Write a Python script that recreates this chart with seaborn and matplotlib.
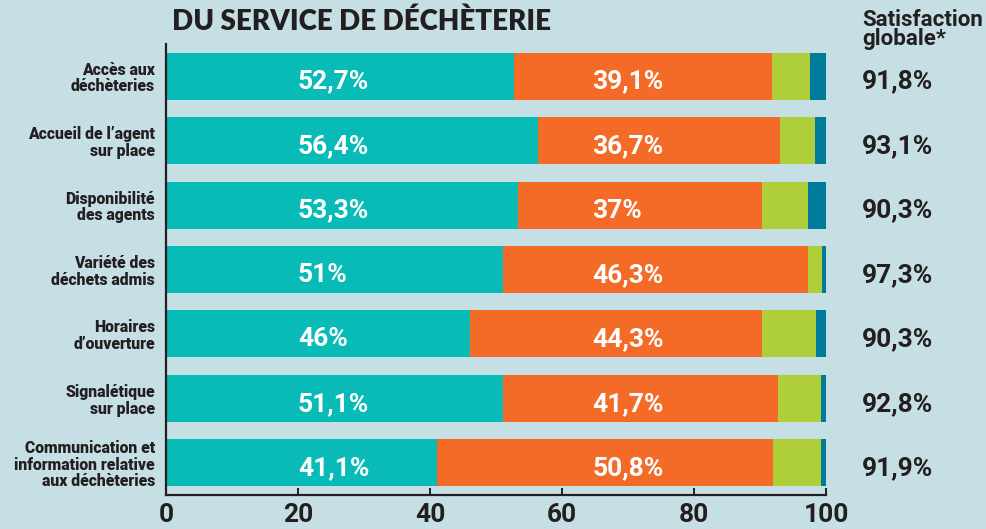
import matplotlib
matplotlib.use("Agg")
import matplotlib.pyplot as plt
import matplotlib.transforms as mtransforms
import numpy as np
import seaborn as sns

# Survey results: share of respondents per satisfaction level (%)
categories = [
    "Accès aux\ndéchèteries",
    "Accueil de l’agent\nsur place",
    "Disponibilité\ndes agents",
    "Variété des\ndéchets admis",
    "Horaires\nd’ouverture",
    "Signalétique\nsur place",
    "Communication et\ninformation relative\naux déchèteries",
]
tres_satisfait = [52.7, 56.4, 53.3, 51.0, 46.0, 51.1, 41.1]
plutot_satisfait = [39.1, 36.7, 37.0, 46.3, 44.3, 41.7, 50.8]
peu_satisfait = [5.8, 5.2, 7.0, 2.1, 8.2, 6.4, 7.3]
pas_satisfait = [2.4, 1.7, 2.7, 0.6, 1.5, 0.8, 0.8]
x_ticks = [0, 20, 40, 60, 80, 100]

BG = "#c5dfe4"
TEAL = "#08bbb6"
ORANGE = "#f36b27"
GREEN = "#aecf39"
BLUE = "#007b99"
INK = "#231f20"

sns.set_style("ticks")
plt.rcParams["font.family"] = ["Roboto", "DejaVu Sans"]
plt.rcParams["font.weight"] = "bold"

fig = plt.figure(figsize=(9.86, 5.29), dpi=100, facecolor=BG)
ax = fig.add_axes([166 / 986, 1 - 495 / 529, 660 / 986, 451 / 529])
ax.set_facecolor(BG)

# Stacked bars: draw cumulative totals from the outermost layer inward
layers = [tres_satisfait, plutot_satisfait, peu_satisfait, pas_satisfait]
colors = [TEAL, ORANGE, GREEN, BLUE]
cums = np.cumsum(np.array(layers), axis=0)
for cum, col in reversed(list(zip(cums, colors))):
    sns.barplot(x=cum, y=categories, orient="h", color=col, saturation=1,
                width=0.73, linewidth=0, ax=ax)

ax.set_xlim(0, 100)
ax.set_ylim(len(categories) - 0.5, -0.5)
ax.set_xticks(x_ticks)
ax.set_xticklabels([str(t) for t in x_ticks])
ax.set_xlabel("")
ax.set_ylabel("")

for side in ("top", "right"):
    ax.spines[side].set_visible(False)
for side in ("left", "bottom"):
    ax.spines[side].set_color(INK)
    ax.spines[side].set_linewidth(1.6)

ax.tick_params(axis="x", direction="in", length=5, width=1.4, color=INK,
               labelsize=19, labelcolor=INK, pad=6)
ax.tick_params(axis="y", length=0, labelsize=11.3, labelcolor=INK, pad=8)
for lab in ax.get_xticklabels():
    lab.set_fontweight("bold")
for lab in ax.get_yticklabels():
    lab.set_fontweight("heavy")
    lab.set_multialignment("right")
    lab.set_linespacing(1.05)


def fmt(v):
    return f"{round(v, 1):g}".replace(".", ",") + "%"


# Value labels inside the two main segments
for i, (a, b) in enumerate(zip(tres_satisfait, plutot_satisfait)):
    ax.text(20.0, i + 0.194, fmt(a), color="white", fontsize=19,
            fontweight="bold", ha="left", va="baseline")
    ax.text(64.6, i + 0.194, fmt(b), color="white", fontsize=19,
            fontweight="bold", ha="left", va="baseline")

# Overall satisfaction column on the right
trans = mtransforms.blended_transform_factory(fig.transFigure, ax.transData)
for i, (a, b) in enumerate(zip(tres_satisfait, plutot_satisfait)):
    ax.text(862 / 986, i + 0.194, fmt(a + b), color=INK, fontsize=19,
            fontweight="bold", ha="left", va="baseline", transform=trans,
            clip_on=False)

fig.text(862 / 986, 1 - 9 / 529, "Satisfaction\nglobale*", color=INK,
         fontsize=16, fontweight="bold", ha="left", va="top", linespacing=0.85)

fig.text(172 / 986, 1 - 30.5 / 529, "DU SERVICE DE DÉCHÈTERIE", color=INK,
         fontsize=20, fontweight="heavy", ha="left", va="baseline",
         family=["Lato", "DejaVu Sans"])

fig.savefig("out.png", dpi=100, facecolor=BG)
